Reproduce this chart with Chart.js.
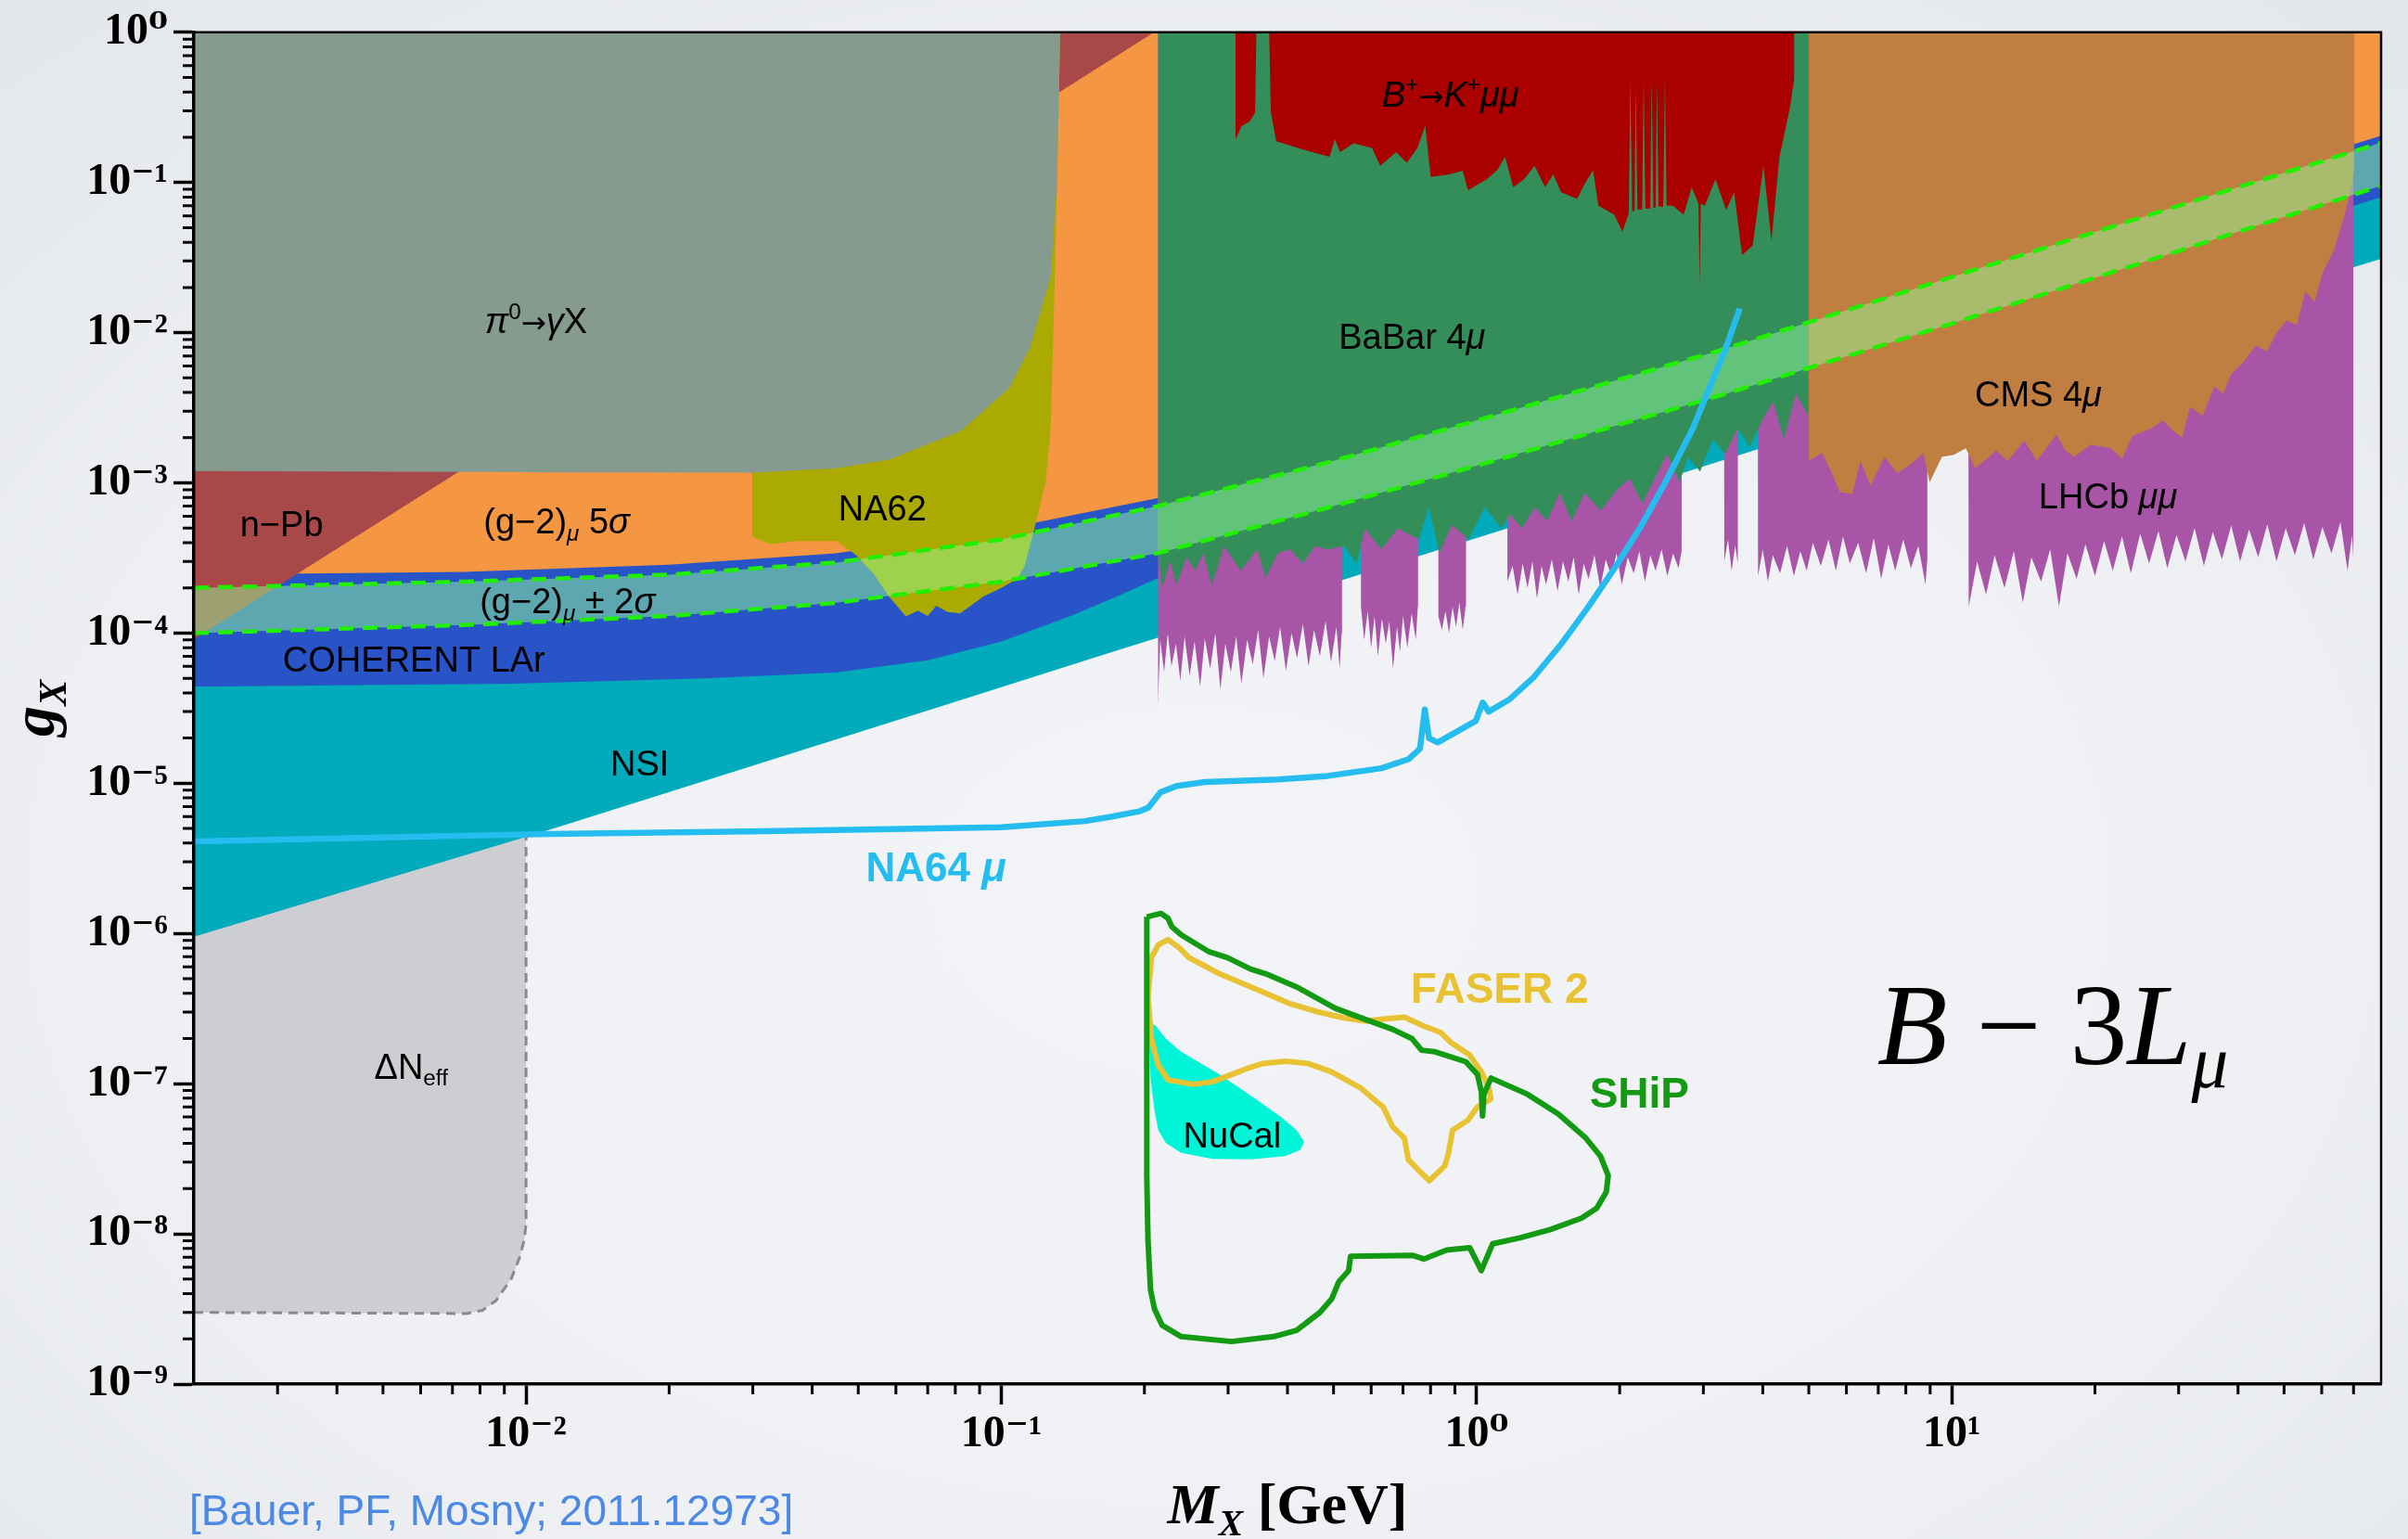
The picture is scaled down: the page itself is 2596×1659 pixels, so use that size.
<!DOCTYPE html>
<html>
<head>
<meta charset="utf-8">
<title>B − 3Lμ vector boson limits</title>
<script src="https://cdn.jsdelivr.net/npm/chart.js@4.4.1/dist/chart.umd.min.js"></script>
<style>
  html, body { margin: 0; padding: 0; overflow: hidden; }
  body {
    width: 2596px; height: 1659px;
    background: radial-gradient(ellipse 80% 85% at 50% 58%, #f3f4f7 0%, #eef0f3 55%, #e1e4e8 100%);
  }
  canvas { display: block; }
</style>
</head>
<body>
<canvas id="chart" width="2596" height="1659"></canvas>
<script>
// axis ticks
const xTickValues = [0.01, 0.1, 1, 10];
const xTickLabels = ["10⁻²", "10⁻¹", "10⁰", "10¹"];
const yTickValues = [1e-9, 1e-8, 1e-7, 1e-6, 1e-5, 1e-4, 1e-3, 1e-2, 1e-1, 1];
const yTickLabels = ["10⁻⁹", "10⁻⁸", "10⁻⁷", "10⁻⁶", "10⁻⁵", "10⁻⁴", "10⁻³", "10⁻²", "10⁻¹", "10⁰"];

// lower edges of excluded regions [M_X in GeV, g_X] (each region fills up to the top)
const deltaNeffEdge = [[0.002, 3.0e-9], [0.0075, 2.95e-9], [0.0081, 3.1e-9], [0.00865, 3.6e-9], [0.0093, 5.0e-9],
  [0.0097, 7.0e-9], [0.0099, 9.0e-9], [0.01, 1.15e-8], [0.01, 4.6e-6]];
const nsiEdge = [[0.002, 9.5e-7], [0.0112, 4.9e-6], [0.0743, 3.24e-5], [0.167, 7.3e-5], [1, 4.3e-4], [3.96, 1.7e-3],
  [10, 4.1e-3], [80, 3.1e-2]];
const coherentEdge = [[0.002, 4.4e-5], [0.0093, 4.6e-5], [0.0238, 5.0e-5], [0.0448, 5.45e-5], [0.07, 6.6e-5],
  [0.1, 8.8e-5], [0.14, 1.3e-4], [0.175, 1.75e-4], [0.21, 2.27e-4], [0.4, 4.6e-4], [1, 1.15e-3], [10, 1.0e-2], [80, 8.0e-2]];
const g2FiveSigmaEdge = [[0.002, 2.45e-4], [0.0074, 2.55e-4], [0.02, 2.85e-4], [0.0448, 3.4e-4], [0.1, 4.9e-4],
  [0.213, 7.9e-4], [1, 3.0e-3], [10, 2.6e-2], [80, 2.05e-1]];
const nPbEdge = [[0.002, 9.1e-5], [0.02, 9.1e-3], [0.2097, 1.0]];
const pi0Edge = [[0.002, 1.2e-3], [0.01, 1.18e-3], [0.03, 1.17e-3], [0.045, 1.25e-3], [0.058, 1.43e-3], [0.082, 2.2e-3],
  [0.104, 4.3e-3], [0.115, 8.0e-3], [0.127, 2.36e-2], [0.131, 1.04e-1], [0.133, 1.0]];
const na62Edge = [[0.0299, 1.17e-3], [0.0299, 4.4e-4], [0.0327, 3.9e-4], [0.0366, 4.1e-4], [0.0451, 4.1e-4], [0.0495, 3.3e-4],
  [0.054, 2.46e-4], [0.058, 1.75e-4], [0.063, 1.29e-4], [0.0667, 1.41e-4], [0.07, 1.3e-4], [0.073, 1.52e-4], [0.077, 1.38e-4],
  [0.0819, 1.35e-4], [0.0917, 1.75e-4], [0.1, 2.0e-4], [0.108, 2.3e-4], [0.112, 2.8e-4], [0.118, 5.3e-4], [0.124, 1.03e-3],
  [0.127, 2.3e-3], [0.129, 1.37e-2], [0.131, 0.1], [0.133, 1.0]];
const lhcbEdge = [
  [0.2135, 3.3e-5], [0.216, 9.0e-5], [0.220, 5.5e-5], [0.224, 1.0e-4], [0.228, 6.0e-5], [0.233, 8.5e-5], [0.238, 4.8e-5],
  [0.243, 9.5e-5], [0.249, 5.2e-5], [0.255, 8.8e-5], [0.262, 4.4e-5], [0.268, 9.2e-5], [0.275, 5.8e-5], [0.282, 1.0e-4],
  [0.289, 4.2e-5], [0.296, 8.5e-5], [0.304, 5.5e-5], [0.312, 9.5e-5], [0.320, 4.6e-5], [0.329, 9.0e-5], [0.338, 6.2e-5],
  [0.347, 1.05e-4], [0.356, 5.0e-5], [0.366, 9.5e-5], [0.376, 6.5e-5], [0.386, 1.1e-4], [0.397, 5.6e-5], [0.408, 1.0e-4],
  [0.419, 6.8e-5], [0.431, 1.15e-4], [0.443, 6.0e-5], [0.455, 1.05e-4], [0.468, 7.0e-5], [0.481, 1.2e-4], [0.494, 6.4e-5],
  [0.507, 1.1e-4], [0.515, 5.8e-5], [0.520, 1.0e-4], [0.521, 1], [0.570, 1],
  [0.571, 1.5e-4], [0.580, 9.0e-5], [0.590, 1.4e-4], [0.600, 8.0e-5], [0.610, 1.3e-4], [0.620, 7.0e-5], [0.632, 1.25e-4],
  [0.644, 8.5e-5], [0.655, 1.2e-4], [0.667, 5.8e-5], [0.680, 1.1e-4], [0.690, 7.5e-5], [0.700, 1.3e-4], [0.715, 8.0e-5],
  [0.730, 1.35e-4], [0.745, 9.0e-5], [0.752, 1.5e-4], [0.753, 1], [0.830, 1],
  [0.831, 1.3e-4], [0.845, 1.05e-4], [0.860, 1.4e-4], [0.875, 1.0e-4], [0.890, 1.5e-4], [0.905, 1.1e-4], [0.920, 1.6e-4],
  [0.935, 1.05e-4], [0.948, 1.5e-4], [0.950, 1], [1.160, 1],
  [1.161, 2.2e-4], [1.19, 2.8e-4], [1.22, 1.8e-4], [1.25, 2.9e-4], [1.28, 2.0e-4], [1.31, 3.0e-4], [1.34, 1.7e-4],
  [1.37, 2.8e-4], [1.40, 2.1e-4], [1.44, 3.1e-4], [1.48, 1.9e-4], [1.52, 3.0e-4], [1.56, 2.2e-4], [1.60, 3.2e-4],
  [1.64, 1.8e-4], [1.68, 2.9e-4], [1.72, 2.3e-4], [1.77, 3.3e-4], [1.82, 2.0e-4], [1.87, 3.1e-4], [1.92, 2.4e-4],
  [1.97, 3.4e-4], [2.02, 2.1e-4], [2.08, 3.2e-4], [2.14, 2.5e-4], [2.20, 3.5e-4], [2.26, 2.2e-4], [2.32, 3.3e-4],
  [2.38, 2.6e-4], [2.45, 3.6e-4], [2.52, 2.4e-4], [2.59, 3.4e-4], [2.66, 2.7e-4], [2.70, 3.5e-4], [2.71, 1], [3.31, 1],
  [3.32, 3.0e-4], [3.38, 4.2e-4], [3.44, 2.6e-4], [3.50, 3.8e-4], [3.54, 3.0e-4], [3.545, 1], [3.90, 1],
  [3.91, 2.4e-4], [4.0, 3.6e-4], [4.1, 2.2e-4], [4.2, 3.3e-4], [4.35, 2.5e-4], [4.5, 3.8e-4], [4.65, 2.4e-4],
  [4.8, 3.5e-4], [4.95, 2.6e-4], [5.1, 4.0e-4], [5.3, 2.8e-4], [5.5, 4.2e-4], [5.7, 2.6e-4], [5.9, 4.4e-4], [6.1, 2.9e-4],
  [6.35, 4.0e-4], [6.6, 2.5e-4], [6.85, 4.3e-4], [7.1, 2.3e-4], [7.35, 3.9e-4], [7.6, 2.6e-4], [7.9, 4.2e-4],
  [8.2, 2.7e-4], [8.5, 3.8e-4], [8.8, 2.1e-4], [8.87, 3.0e-4], [8.88, 1], [10.8, 1],
  [10.85, 1.5e-4], [11.3, 3.0e-4], [11.8, 1.8e-4], [12.3, 3.3e-4], [12.9, 2.0e-4], [13.5, 3.5e-4], [14.1, 1.6e-4],
  [14.7, 3.2e-4], [15.4, 2.2e-4], [16.1, 3.6e-4], [16.8, 1.5e-4], [17.5, 3.4e-4], [18.3, 2.3e-4], [19.1, 3.9e-4],
  [20.0, 2.4e-4], [20.9, 4.1e-4], [21.8, 2.6e-4], [22.8, 4.4e-4], [23.8, 2.5e-4], [24.9, 4.6e-4], [26.0, 2.9e-4],
  [27.2, 4.8e-4], [28.4, 2.7e-4], [29.7, 4.5e-4], [31.0, 3.0e-4], [32.4, 5.0e-4], [33.9, 2.8e-4], [35.4, 4.7e-4],
  [37.0, 3.1e-4], [38.7, 5.2e-4], [40.4, 3.0e-4], [42.2, 4.9e-4], [44.1, 3.2e-4], [46.1, 5.3e-4], [48.2, 3.0e-4],
  [50.4, 5.0e-4], [52.7, 3.3e-4], [55.1, 5.4e-4], [57.6, 3.1e-4], [60.2, 5.1e-4], [62.9, 3.4e-4], [65.7, 5.5e-4],
  [68.0, 2.6e-4], [69.5, 4.5e-4], [70.0, 3.0e-4]];
const babarEdge = [[0.2135, 3.6e-4], [0.218, 1.99e-4], [0.2266, 3.05e-4], [0.2336, 2.08e-4], [0.2456, 3.22e-4],
  [0.2557, 2.6e-4], [0.266, 3.42e-4], [0.2772, 2.08e-4], [0.2944, 3.8e-4], [0.3189, 2.6e-4], [0.3456, 3.6e-4],
  [0.3597, 2.33e-4], [0.3818, 3.42e-4], [0.4055, 3.6e-4], [0.4309, 2.9e-4], [0.4576, 3.8e-4], [0.486, 3.6e-4],
  [0.5266, 3.8e-4], [0.5594, 2.9e-4], [0.5823, 4.98e-4], [0.6306, 3.6e-4], [0.6833, 4.98e-4], [0.7554, 4.2e-4],
  [0.7939, 6.9e-4], [0.8353, 3.42e-4], [0.8872, 5.26e-4], [0.9612, 4.2e-4], [1.041, 6.9e-4], [1.128, 4.98e-4],
  [1.175, 6.2e-4], [1.247, 4.98e-4], [1.325, 6.9e-4], [1.407, 5.56e-4], [1.495, 8.6e-4], [1.586, 5.56e-4],
  [1.685, 8.6e-4], [1.826, 6.55e-4], [1.979, 9.1e-4], [2.101, 1.07e-3], [2.232, 7.3e-4], [2.37, 1.07e-3],
  [2.516, 1.56e-3], [2.674, 1.01e-3], [2.782, 1.48e-3], [2.954, 1.19e-3], [3.138, 1.94e-3], [3.333, 1.56e-3],
  [3.54, 2.29e-3], [3.759, 1.74e-3], [3.976, 2.55e-3], [4.204, 3.5e-3], [4.429, 1.95e-3], [4.7, 3.95e-3], [4.99, 2.78e-3]];
const bKmumuEdge = [[0.311, 0.194], [0.3206, 0.238], [0.3332, 0.255], [0.342, 0.294], [0.344, 1], [0.366, 1],
  [0.369, 0.294], [0.3788, 0.188], [0.4365, 0.164], [0.4904, 0.1485], [0.5033, 0.194], [0.5162, 0.159], [0.5507, 0.182],
  [0.6025, 0.170], [0.6268, 0.129], [0.6771, 0.159], [0.7129, 0.135], [0.7505, 0.170], [0.7798, 0.238], [0.8005, 0.109],
  [0.8759, 0.113], [0.9345, 0.120], [0.9592, 0.089], [1.05, 0.105], [1.105, 0.121], [1.148, 0.1485], [1.194, 0.093],
  [1.258, 0.105], [1.324, 0.129], [1.394, 0.093], [1.449, 0.113], [1.506, 0.086], [1.627, 0.078], [1.691, 0.099],
  [1.758, 0.121], [1.804, 0.070], [1.949, 0.061], [2.026, 0.047], [2.09, 0.062], [2.106, 0.49], [2.125, 0.064],
  [2.15, 0.065], [2.161, 0.45], [2.18, 0.066], [2.23, 0.066], [2.246, 0.50], [2.265, 0.067], [2.32, 0.067],
  [2.335, 0.49], [2.355, 0.068], [2.38, 0.068], [2.395, 0.47], [2.415, 0.069], [2.47, 0.069], [2.49, 0.50],
  [2.51, 0.07], [2.588, 0.070], [2.727, 0.061], [2.835, 0.093], [2.93, 0.072], [2.946, 0.0206], [2.962, 0.072],
  [3.02, 0.070], [3.181, 0.105], [3.35, 0.0655], [3.482, 0.086], [3.619, 0.033], [3.81, 0.038], [4.013, 0.129],
  [4.172, 0.041], [4.337, 0.1485], [4.565, 0.316], [4.662, 0.5]];
const cmsEdge = [[5.0, 1.40e-3], [5.33, 1.58e-3], [5.6, 1.15e-3], [5.81, 8.7e-4], [6.17, 8.4e-4], [6.42, 1.40e-3],
  [6.74, 9.6e-4], [7.22, 1.49e-3], [7.67, 1.16e-3], [8.14, 1.31e-3], [8.71, 1.58e-3], [8.98, 1.01e-3], [9.53, 1.49e-3],
  [10.1, 1.54e-3], [10.7, 1.70e-3], [11.2, 1.25e-3], [11.7, 1.40e-3], [12.4, 1.64e-3], [13.1, 1.40e-3], [14.2, 1.91e-3],
  [15.1, 1.40e-3], [16.6, 2.10e-3], [17.3, 1.65e-3], [18.1, 1.49e-3], [19.6, 1.80e-3], [21.6, 1.70e-3], [22.8, 1.45e-3],
  [24.0, 2.05e-3], [26.4, 2.32e-3], [27.8, 2.6e-3], [29.3, 2.20e-3], [30.5, 2.0e-3], [31.7, 3.2e-3], [33.7, 2.81e-3],
  [35.7, 4.4e-3], [37.2, 3.9e-3], [38.7, 5.3e-3], [41.1, 6.4e-3], [43.6, 8.2e-3], [46.0, 7.5e-3], [48.2, 9.98e-3],
  [50.6, 1.2e-2], [53.2, 1.13e-2], [55.4, 1.88e-2], [58.0, 1.6e-2], [60.0, 2.42e-2], [62.0, 3.0e-2], [63.7, 3.55e-2],
  [66.9, 5.9e-2], [68.9, 8.6e-2], [70.3, 0.126]];

// (g-2)_mu +-2 sigma band
const g2BandUpper = [[0.002, 2.0e-4], [0.0074, 2.2e-4], [0.02, 2.45e-4], [0.0448, 2.95e-4], [0.1, 4.2e-4], [0.213, 7.0e-4],
  [0.5, 1.4e-3], [1, 2.6e-3], [3.24, 7.6e-3], [10, 2.35e-2], [30, 7.0e-2], [80, 0.184]];
const g2BandLower = [[0.002, 1.0e-4], [0.0074, 1.13e-4], [0.02, 1.3e-4], [0.0448, 1.59e-4], [0.1, 2.2e-4], [0.213, 3.4e-4],
  [0.5, 7.0e-4], [1, 1.3e-3], [3.24, 3.8e-3], [10, 1.15e-2], [30, 3.5e-2], [80, 0.095]];

// closed NuCal region
const nucalShape = [[0.210, 2.48e-7], [0.222, 1.99e-7], [0.239, 1.63e-7], [0.288, 1.15e-7], [0.347, 7.7e-8], [0.388, 5.98e-8],
  [0.418, 4.91e-8], [0.434, 4.11e-8], [0.426, 3.63e-8], [0.396, 3.29e-8], [0.335, 3.13e-8], [0.278, 3.16e-8], [0.239, 3.46e-8],
  [0.222, 4.02e-8], [0.2139, 4.91e-8], [0.210, 6.62e-8], [0.206, 1.09e-7], [0.2045, 2.31e-7]];

// NA64mu projection
const na64Line = [[0.002, 4.1e-6], [0.0112, 4.6e-6], [0.032, 4.8e-6], [0.1, 5.1e-6], [0.15, 5.6e-6], [0.171, 6.0e-6],
  [0.195, 6.5e-6], [0.204, 6.9e-6], [0.216, 8.7e-6], [0.234, 9.6e-6], [0.268, 1.02e-5], [0.382, 1.06e-5], [0.486, 1.12e-5],
  [0.631, 1.26e-5], [0.72, 1.45e-5], [0.76, 1.7e-5], [0.778, 3.1e-5], [0.794, 2.0e-5], [0.828, 1.87e-5], [0.996, 2.6e-5],
  [1.03, 3.45e-5], [1.06, 3.0e-5], [1.17, 3.6e-5], [1.32, 5.1e-5], [1.5, 8.3e-5], [1.72, 1.5e-4], [1.98, 2.9e-4],
  [2.23, 5.3e-4], [2.52, 1.07e-3], [2.85, 2.3e-3], [3.1, 4.4e-3], [3.33, 7.6e-3], [3.58, 1.45e-2]];

// FASER 2 and SHiP contours
const faser2Contour = [[0.2069, 6.9e-7], [0.2139, 8.4e-7], [0.2243, 9.1e-7], [0.237, 8.0e-7], [0.2482, 6.9e-7],
  [0.2674, 6.1e-7], [0.288, 5.38e-7], [0.347, 4.2e-7], [0.403, 3.43e-7], [0.459, 3.03e-7], [0.523, 2.75e-7],
  [0.585, 2.61e-7], [0.642, 2.7e-7], [0.705, 2.77e-7], [0.774, 2.42e-7], [0.841, 2.19e-7], [0.881, 1.89e-7],
  [0.967, 1.55e-7], [1.023, 1.2e-7], [1.061, 9.4e-8], [1.072, 7.9e-8], [1.004, 7.0e-8], [0.958, 5.7e-8], [0.89, 4.91e-8],
  [0.873, 3.46e-8], [0.857, 2.83e-8], [0.795, 2.26e-8], [0.752, 2.69e-8], [0.718, 3.13e-8], [0.705, 4.34e-8],
  [0.666, 5.16e-8], [0.636, 7.0e-8], [0.607, 7.9e-8], [0.569, 9.4e-8], [0.523, 1.09e-7], [0.495, 1.2e-7], [0.443, 1.36e-7],
  [0.396, 1.41e-7], [0.3537, 1.36e-7], [0.3283, 1.26e-7], [0.305, 1.15e-7], [0.278, 1.03e-7], [0.2529, 9.9e-8],
  [0.2243, 1.06e-7], [0.2139, 1.33e-7], [0.2069, 1.99e-7], [0.2035, 3.79e-7], [0.2069, 6.9e-7]];
const shipContour = [[0.2023, 1.29e-6], [0.2167, 1.36e-6], [0.2243, 1.26e-6], [0.2284, 1.11e-6], [0.239, 9.8e-7],
  [0.2724, 7.6e-7], [0.2992, 6.9e-7], [0.3345, 5.8e-7], [0.3604, 5.38e-7], [0.4182, 4.4e-7], [0.504, 3.18e-7],
  [0.585, 2.67e-7], [0.666, 2.3e-7], [0.732, 1.99e-7], [0.766, 1.67e-7], [0.818, 1.63e-7], [0.949, 1.40e-7],
  [1.004, 1.15e-7], [1.023, 8.9e-8], [1.029, 6.1e-8], [1.036, 8.5e-8], [1.072, 1.09e-7], [1.279, 8.5e-8], [1.485, 6.3e-8],
  [1.691, 4.4e-8], [1.823, 3.29e-8], [1.892, 2.44e-8], [1.874, 1.9e-8], [1.789, 1.48e-8], [1.66, 1.27e-8], [1.43, 1.07e-8],
  [1.233, 9.4e-9], [1.081, 8.6e-9], [1.023, 5.7e-9], [0.967, 8.1e-9], [0.865, 7.8e-9], [0.774, 6.8e-9], [0.732, 7.2e-9],
  [0.543, 7.1e-9], [0.538, 5.7e-9], [0.513, 4.8e-9], [0.495, 3.67e-9], [0.468, 3.0e-9], [0.418, 2.28e-9], [0.374, 2.07e-9],
  [0.305, 1.92e-9], [0.239, 2.07e-9], [0.218, 2.46e-9], [0.210, 3.16e-9], [0.206, 4.26e-9], [0.2035, 9.0e-9],
  [0.2023, 2.44e-8], [0.2023, 1.79e-7], [0.2023, 1.29e-6]];

const SANS = "'Liberation Sans', Arial, Helvetica, sans-serif";
const SERIF = "'Liberation Serif', 'DejaVu Serif', 'Times New Roman', serif";

// text placed on the plot (data coordinates of the label centre)
const regionLabels = [
  { x: 0.0105, y: 0.012, parts: [["π", "i"], ["0", "sup"], ["→", "arr"], ["γ", "i"], ["X"]] },
  { x: 0.00306, y: 5.35e-4, parts: [["n−Pb"]] },
  { x: 0.0116, y: 5.6e-4, parts: [["(g−2)"], ["μ", "isub"], [" 5"], ["σ", "i"]] },
  { x: 0.0562, y: 6.8e-4, parts: [["NA62"]] },
  { x: 0.01222, y: 1.65e-4, parts: [["(g−2)"], ["μ", "isub"], [" ± 2"], ["σ", "i"]] },
  { x: 0.00581, y: 6.7e-5, parts: [["COHERENT LAr"]] },
  { x: 0.01734, y: 1.36e-5, parts: [["NSI"]] },
  { x: 0.0729, y: 2.8e-6, size: 44, bold: true, color: "#25bdf0", parts: [["NA64 "], ["μ", "bi"]] },
  { x: 0.00573, y: 1.31e-7, parts: [["ΔN"], ["eff", "sub"]] },
  { x: 0.7315, y: 9.45e-3, parts: [["BaBar 4"], ["μ", "i"]] },
  { x: 0.881, y: 0.39, parts: [["B", "i"], ["+", "sup"], ["→", "arr"], ["K", "i"], ["+", "sup"], ["μμ", "i"]] },
  { x: 15.2, y: 3.95e-3, parts: [["CMS 4"], ["μ", "i"]] },
  { x: 21.3, y: 8.2e-4, parts: [["LHCb "], ["μμ", "i"]] },
  { x: 1.118, y: 4.37e-7, size: 46, bold: true, color: "#e8c232", parts: [["FASER 2"]] },
  { x: 2.2, y: 8.8e-8, size: 46, bold: true, color: "#129a12", parts: [["SHiP"]] },
  { x: 0.306, y: 4.56e-8, parts: [["NuCal"]] },
  { x: 16.3, y: 2.54e-7, size: 124, family: SERIF, parts: [["B", "i"], [" − 3"], ["L", "i"], ["μ", "isub"]] },
];

const STYLES = {
  "": {}, i: { italic: true }, b: { bold: true }, bi: { bold: true, italic: true },
  sub: { sub: true }, isub: { italic: true, sub: true }, sup: { sup: true },
  arr: { family: "'DejaVu Sans', sans-serif", scale: 0.85 },
};

function drawRich(ctx, cx, cy, lab) {
  const size = lab.size || 38;
  const family = lab.family || SANS;
  const runs = lab.parts.map(([text, key]) => {
    const st = STYLES[key || ""];
    const fs = (st.sub || st.sup ? size * 0.64 : size) * (st.scale || 1);
    const font = `${st.italic ? "italic " : ""}${st.bold || lab.bold ? "bold " : ""}${fs}px ${st.family || family}`;
    ctx.font = font;
    return { text, font, width: ctx.measureText(text).width, dy: st.sub ? size * 0.2 : st.sup ? -size * 0.4 : 0 };
  });
  const total = runs.reduce((s, r) => s + r.width, 0);
  let px = cx - total / 2;
  const base = cy + size * 0.36;
  ctx.save();
  ctx.fillStyle = lab.color || "#000";
  ctx.textAlign = "left";
  ctx.textBaseline = "alphabetic";
  for (const r of runs) {
    ctx.font = r.font;
    ctx.fillText(r.text, px, base + r.dy);
    px += r.width;
  }
  ctx.restore();
}

const pts = (arr) => arr.map(([x, y]) => ({ x, y }));

function region(label, edge, color, extra = {}) {
  return { label, data: pts(edge), fill: "end", backgroundColor: color, borderColor: "transparent", borderWidth: 0, ...extra };
}

// back to front
const layers = [
  region("ΔNeff", deltaNeffEdge, "#cdced2", { borderColor: "#8a8a8e", borderWidth: 3, borderDash: [10, 7] }),
  region("NSI", nsiEdge, "#02abbc"),
  region("COHERENT LAr", coherentEdge, "#2854c8"),
  region("(g-2) 5σ", g2FiveSigmaEdge, "#f49642"),
  region("n-Pb", nPbEdge, "#a94848"),
  region("NA62", na62Edge, "#aaaa00"),
  region("π0 → γX", pi0Edge, "#869b8f"),
  region("LHCb μμ", lhcbEdge, "#a855a8"),
  region("BaBar 4μ", babarEdge, "#338e5a"),
  region("B → Kμμ", bKmumuEdge, "#aa0000"),
  region("CMS 4μ", cmsEdge, "#c07e40"),
  { label: "(g-2) ±2σ upper", data: pts(g2BandUpper), fill: "+1", backgroundColor: "rgba(145,250,154,0.5)",
    borderColor: "#22ee00", borderWidth: 4.5, borderDash: [16, 10] },
  { label: "(g-2) ±2σ lower", data: pts(g2BandLower), fill: false, borderColor: "#22ee00", borderWidth: 4.5, borderDash: [16, 10] },
  { label: "NuCal", data: pts(nucalShape), fill: "shape", backgroundColor: "#00f5d8", borderColor: "transparent", borderWidth: 0 },
  { label: "NA64μ", data: pts(na64Line), fill: false, borderColor: "#25bdf0", borderWidth: 6.5 },
  { label: "FASER 2", data: pts(faser2Contour), fill: false, borderColor: "#e8c232", borderWidth: 6 },
  { label: "SHiP", data: pts(shipContour), fill: false, borderColor: "#129a12", borderWidth: 6 },
];
layers.forEach((d, i) => {
  d.order = layers.length - i;
  d.pointRadius = 0;
  d.borderJoinStyle = "round";
});

const decorations = {
  id: "decorations",
  afterDatasetsDraw(chart) {
    const { ctx, scales: { x, y } } = chart;
    for (const lab of regionLabels) {
      drawRich(ctx, x.getPixelForValue(lab.x), y.getPixelForValue(lab.y), lab);
    }
  },
  afterDraw(chart) {
    const { ctx, chartArea: a, scales: { x, y } } = chart;
    ctx.save();
    // frame on top and right
    ctx.strokeStyle = "#000";
    ctx.lineWidth = 2.5;
    ctx.beginPath();
    ctx.moveTo(a.left, a.top);
    ctx.lineTo(a.right, a.top);
    ctx.lineTo(a.right, a.bottom);
    ctx.stroke();
    // minor ticks
    ctx.lineWidth = 3;
    ctx.beginPath();
    for (let e = -3; e <= 1; e++) {
      for (let k = 2; k <= 9; k++) {
        const v = k * Math.pow(10, e);
        if (v <= x.min || v >= x.max) continue;
        const px = x.getPixelForValue(v);
        ctx.moveTo(px, a.bottom);
        ctx.lineTo(px, a.bottom + 11);
      }
    }
    for (let e = -9; e <= -1; e++) {
      for (let k = 2; k <= 9; k++) {
        const py = y.getPixelForValue(k * Math.pow(10, e));
        ctx.moveTo(a.left, py);
        ctx.lineTo(a.left - 12, py);
      }
    }
    ctx.stroke();
    ctx.restore();

    // axis titles
    drawRich(ctx, (a.left + a.right) / 2, 1620, { size: 62, family: SERIF, bold: true,
      parts: [["M", "i"], ["X", "isub"], [" [GeV]"]] });
    ctx.save();
    ctx.translate(40, (a.top + a.bottom) / 2);
    ctx.rotate(-Math.PI / 2);
    drawRich(ctx, 0, -6, { size: 66, family: SERIF, bold: true, parts: [["g", "i"], ["X", "isub"]] });
    ctx.restore();

    // reference
    ctx.save();
    ctx.font = `46px ${SANS}`;
    ctx.fillStyle = "#4c89e4";
    ctx.textAlign = "left";
    ctx.textBaseline = "alphabetic";
    ctx.fillText("[Bauer, PF, Mosny; 2011.12973]", 204, 1644);
    ctx.restore();
  },
};

const tickFont = { family: SERIF, size: 48, weight: "bold" };

new Chart(document.getElementById("chart"), {
  type: "line",
  data: { datasets: layers },
  plugins: [decorations],
  options: {
    responsive: false,
    animation: false,
    devicePixelRatio: 1,
    layout: { padding: { left: 0, top: 33, right: 29, bottom: 0 } },
    plugins: {
      legend: { display: false },
      tooltip: { enabled: false },
      filler: { propagate: false },
    },
    elements: { point: { radius: 0 }, line: { tension: 0 } },
    scales: {
      x: {
        type: "logarithmic",
        min: 0.002,
        max: 80,
        afterBuildTicks: (s) => { s.ticks = xTickValues.map((v) => ({ value: v, major: true })); },
        afterFit: (s) => { s.height = 167; },
        ticks: {
          autoSkip: false, maxRotation: 0, padding: 4, color: "#000", font: tickFont, z: 1,
          callback: (value, index) => xTickLabels[index],
        },
        grid: { drawOnChartArea: false, drawTicks: true, tickLength: 22, tickWidth: 3.5, tickColor: "#000" },
        border: { display: true, color: "#000", width: 3.5, z: 1 },
      },
      y: {
        type: "logarithmic",
        min: 1e-9,
        max: 1,
        afterBuildTicks: (s) => { s.ticks = yTickValues.map((v) => ({ value: v, major: true })); },
        afterFit: (s) => { s.width = 209; },
        ticks: {
          autoSkip: false, padding: 6, color: "#000", font: tickFont, z: 1,
          callback: (value, index) => yTickLabels[index],
        },
        grid: { drawOnChartArea: false, drawTicks: true, tickLength: 22, tickWidth: 3.5, tickColor: "#000" },
        border: { display: true, color: "#000", width: 3.5, z: 1 },
      },
    },
  },
});
</script>
</body>
</html>
